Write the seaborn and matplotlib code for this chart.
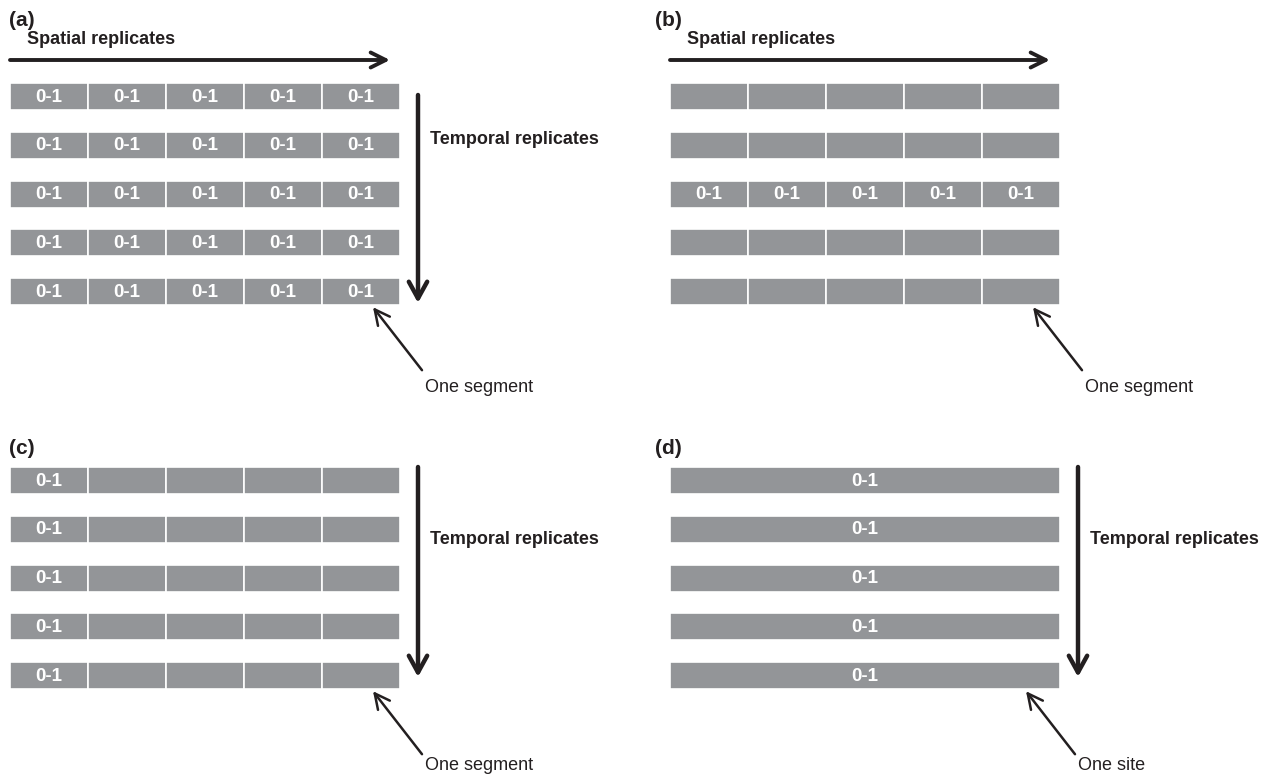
import matplotlib
matplotlib.use("Agg")
import matplotlib.pyplot as plt
import seaborn as sns
import numpy as np

sns.set_theme(style="white")
plt.rcParams['font.family'] = ['Liberation Sans', 'DejaVu Sans']

# ---- data ----
panel_labels = ['(a)', '(b)', '(c)', '(d)']
n_rows = 5
segments_per_row = [5, 5, 5, 1]
cell_value = '0-1'
# which cells carry a 0-1 value: 'all', 'row:k', 'col:k'
label_rule = ['all', 'row:2', 'col:0', 'all']
has_horizontal = [True, True, False, False]
has_vertical = [True, False, True, True]
callout_text = ['One segment', 'One segment', 'One segment', 'One site']
horizontal_title = 'Spatial replicates'
vertical_title = 'Temporal replicates'

# ---- layout ----
W, H = 1274, 776
fig = plt.figure(figsize=(W / 100, H / 100), dpi=100)
ax = fig.add_axes([0, 0, 1, 1])
ax.set_xlim(0, W)
ax.set_ylim(H, 0)
ax.axis('off')

gray = '#939598'
ink = '#231f20'
origins = [(10, 83), (670, 83), (10, 467), (670, 467)]
label_pos = [(9, 20), (655, 20), (9, 448), (655, 448)]
row_pitch = 48.8
row_h = 27
total_w = 390

for p in range(4):
    x0, y0 = origins[p]
    nseg = segments_per_row[p]
    seg_w = total_w / nseg
    rule = label_rule[p]
    for r in range(n_rows):
        yc = y0 + r * row_pitch + row_h / 2
        lefts = x0 + np.arange(nseg) * seg_w
        ax.barh([yc] * nseg, [seg_w] * nseg, left=lefts, height=row_h,
                color=gray, edgecolor='white', linewidth=1.2, align='center')
        for c in range(nseg):
            show = (rule == 'all' or (rule.startswith('row') and int(rule.split(':')[1]) == r)
                    or (rule.startswith('col') and int(rule.split(':')[1]) == c))
            if show:
                ax.text(lefts[c] + seg_w / 2, yc + 0.5, cell_value, color='white',
                        fontsize=13.5, fontweight='bold', ha='center', va='center')
    # panel label
    ax.text(label_pos[p][0], label_pos[p][1], panel_labels[p], fontsize=15,
            fontweight='bold', ha='left', va='center', color=ink)
    # horizontal arrow
    if has_horizontal[p]:
        ax.annotate('', xy=(x0 + 380, 60), xytext=(x0, 60),
                    arrowprops=dict(arrowstyle='->,head_length=0.9,head_width=0.45',
                                    lw=2.8, color=ink, shrinkA=0, shrinkB=0))
        ax.text(x0 + 17, 39, horizontal_title, fontsize=13, fontweight='bold',
                ha='left', va='center', color=ink)
    # vertical arrow
    vx = x0 + 408
    if has_vertical[p]:
        vtop = y0 + 12 if p == 0 else y0
        vbot = y0 + 220 if p == 0 else y0 + 210
        ax.annotate('', xy=(vx, vbot), xytext=(vx, vtop),
                    arrowprops=dict(arrowstyle='->,head_length=1.0,head_width=0.55',
                                    lw=3.2, color=ink, shrinkA=0, shrinkB=0))
        ax.text(vx + 12, y0 + 56 if p == 0 else y0 + 73, vertical_title, fontsize=13,
                fontweight='bold', ha='left', va='center', color=ink)
    # callout
    last_bottom = y0 + 4 * row_pitch + row_h
    if p < 3:
        hx = x0 + 363
    else:
        hx = x0 + 356
    ax.annotate('', xy=(hx, last_bottom + 2), xytext=(hx + 49, last_bottom + 65),
                arrowprops=dict(arrowstyle='->,head_length=0.9,head_width=0.45',
                                lw=1.8, color=ink, shrinkA=0, shrinkB=0))
    if p < 2:
        ax.text(hx + 52, last_bottom + 82, callout_text[p], fontsize=13,
                ha='left', va='center', color=ink)
    else:
        ax.text(hx + 52, 770, callout_text[p], fontsize=13,
                ha='left', va='baseline', color=ink)

fig.savefig('out.png', dpi=100)
